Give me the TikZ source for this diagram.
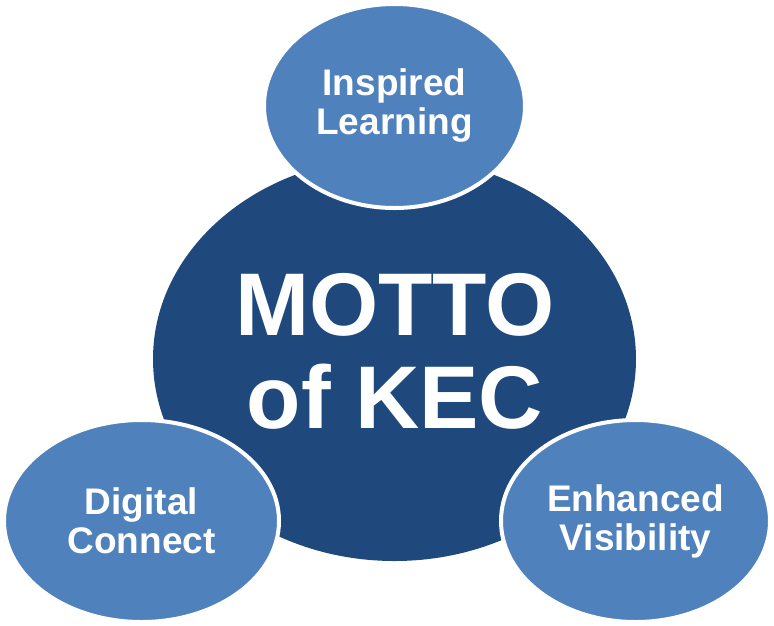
\documentclass[tikz,border=0pt]{standalone}
\usepackage{fontspec}
\setmainfont{Liberation Sans}
\usetikzlibrary{shapes.geometric}
\definecolor{dkb}{RGB}{31,73,125}
\definecolor{ltb}{RGB}{79,129,189}
\tikzset{
  hub/.style={ellipse,fill=dkb,inner sep=0pt,minimum width=483pt,minimum height=404pt},
  mottotxt/.style={text=white,align=center,font=\bfseries\fontsize{89}{93}\selectfont},
  % outer ellipses with white rim
  petal/.style={ellipse,fill=ltb,draw=white,line width=4pt,inner sep=0pt,
    align=center,text=white,font=\bfseries\fontsize{37}{39}\selectfont},
}
\begin{document}
\begin{tikzpicture}[x=1pt,y=-1pt]
\useasboundingbox (0,0) rectangle (774,625);
% --- central motto ---
\node[hub] (hub) at (394.5,359) {};
\node[mottotxt] (motto) at (395,351) {MOTTO\\of KEC};

% --- surrounding ellipses ---
\node[petal,minimum width=261pt,minimum height=204pt] (learn) at (394.5,106) {Inspired\\Learning};
\node[petal,minimum width=275pt,minimum height=202pt] (digital) at (141.5,521) {Digital\\Connect};
\node[petal,minimum width=269pt,minimum height=202pt] (visib) at (635.5,521) {Enhanced\\Visibility};
\end{tikzpicture}
\end{document}
